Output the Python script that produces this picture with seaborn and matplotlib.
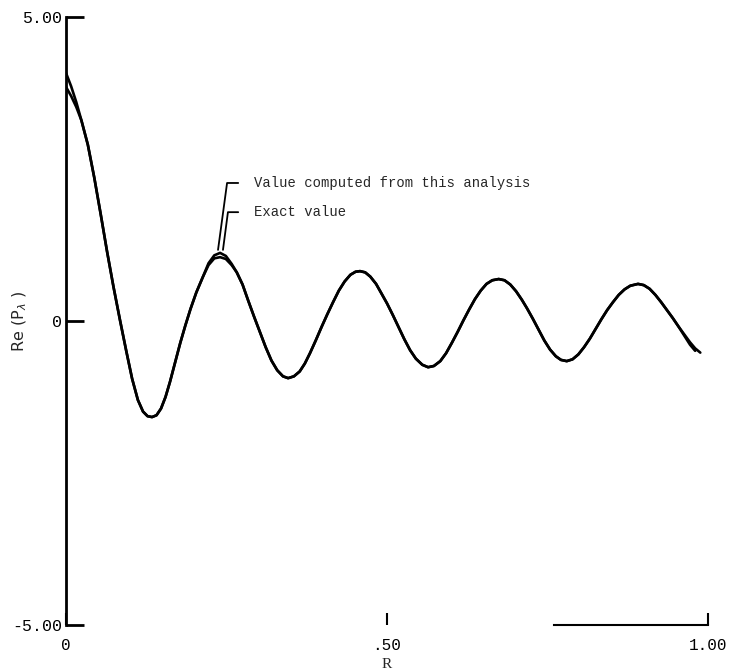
import numpy as np
import pandas as pd
import matplotlib
matplotlib.use("Agg")
import matplotlib.pyplot as plt
import seaborn as sns

# ---- data ----
r_values = [0.000,0.008,0.016,0.024,0.034,0.044,0.054,0.064,0.074,0.084,
            0.094,0.103,0.112,0.120,0.127,0.134,0.141,0.148,0.155,0.162,
            0.170,0.178,0.186,0.194,0.203,0.213,0.222,0.231,0.240,0.249,
            0.258,0.266,0.275,0.284,0.293,0.302,0.311,0.320,0.329,0.338,
            0.346,0.355,0.364,0.372,0.380,0.389,0.398,0.407,0.416,0.425,
            0.434,0.443,0.451,0.458,0.466,0.474,0.483,0.491,0.500,0.509,
            0.518,0.527,0.536,0.545,0.555,0.564,0.573,0.583,0.592,0.601,
            0.610,0.619,0.628,0.637,0.646,0.655,0.664,0.674,0.683,0.692,
            0.701,0.710,0.718,0.727,0.736,0.745,0.754,0.763,0.771,0.780,
            0.789,0.798,0.807,0.816,0.825,0.834,0.843,0.852,0.861,0.870,
            0.879,0.891,0.900,0.909,0.918,0.927,0.936,0.945,0.954,0.963,
            0.972,0.980,0.988]

exact_values = [3.85,3.70,3.52,3.30,2.90,2.36,1.76,1.14,0.56,0.02,
                -0.50,-0.95,-1.30,-1.49,-1.565,-1.58,-1.55,-1.44,-1.25,-1.00,
                -0.68,-0.36,-0.07,0.20,0.47,0.72,0.92,1.03,1.05,1.02,
                0.92,0.80,0.60,0.33,0.07,-0.18,-0.43,-0.65,-0.81,-0.91,
                -0.94,-0.91,-0.83,-0.70,-0.53,-0.32,-0.10,0.11,0.31,0.50,
                0.65,0.76,0.81,0.82,0.80,0.73,0.61,0.46,0.29,0.10,
                -0.10,-0.30,-0.48,-0.62,-0.72,-0.76,-0.74,-0.66,-0.53,-0.36,
                -0.18,0.01,0.19,0.36,0.50,0.61,0.67,0.69,0.67,0.60,
                0.49,0.35,0.21,0.04,-0.14,-0.32,-0.47,-0.58,-0.64,-0.66,
                -0.63,-0.55,-0.43,-0.29,-0.13,0.03,0.18,0.31,0.43,0.52,
                0.58,0.61,0.59,0.53,0.43,0.31,0.18,0.05,-0.09,-0.22,
                -0.35,-0.45,-0.52]

computed_values = [4.08,3.86,3.60,3.30,2.90,2.36,1.76,1.14,0.56,0.02,
                   -0.50,-0.95,-1.30,-1.49,-1.565,-1.58,-1.55,-1.44,-1.25,-1.00,
                   -0.68,-0.36,-0.07,0.20,0.47,0.72,0.95,1.08,1.12,1.07,
                   0.94,0.80,0.60,0.33,0.07,-0.18,-0.43,-0.65,-0.81,-0.91,
                   -0.94,-0.91,-0.83,-0.70,-0.53,-0.32,-0.10,0.11,0.31,0.50,
                   0.65,0.76,0.81,0.82,0.80,0.73,0.61,0.46,0.29,0.10,
                   -0.10,-0.30,-0.48,-0.62,-0.72,-0.76,-0.74,-0.66,-0.53,-0.36,
                   -0.18,0.01,0.19,0.36,0.50,0.61,0.67,0.69,0.67,0.60,
                   0.49,0.35,0.21,0.04,-0.14,-0.32,-0.47,-0.58,-0.64,-0.66,
                   -0.63,-0.55,-0.43,-0.29,-0.13,0.03,0.18,0.31,0.43,0.52,
                   0.58,0.61,0.59,0.53,0.43,0.31,0.18,0.05,-0.09,-0.24,
                   -0.39,-0.49,np.nan]

x_ticks = [0.0, 0.5, 1.0]
x_tick_labels = ["0", ".50", "1.00"]
y_ticks = [5.0, 0.0, -5.0]
y_tick_labels = ["5.00", "0", "-5.00"]

series_names = ["Value computed from this analysis", "Exact value"]
# annotation anchor points on the first peak, and text positions
anno_xy = [(0.2368, 1.17), (0.2445, 1.17)]
anno_text_xy = [(0.2928, 2.27), (0.2928, 1.79)]
anno_angles = [82.3, 82.5]

# ---- build long-form table ----
df = pd.concat([
    pd.DataFrame({"R": r_values, "val": computed_values, "series": series_names[0]}),
    pd.DataFrame({"R": r_values, "val": exact_values, "series": series_names[1]}),
], ignore_index=True)

sns.set_style("white")
plt.rcParams["font.family"] = ["Liberation Mono", "DejaVu Sans Mono", "DejaVu Sans"]

fig = plt.figure(figsize=(7.32, 6.71), dpi=100)
ax = fig.add_axes([66/732, 1 - 625/671, (708 - 66)/732, (625 - 17)/671])

sns.lineplot(data=df.dropna(), x="R", y="val", hue="series", units="series",
             estimator=None, sort=False, palette=["black", "black"],
             linewidth=1.9, legend=False, ax=ax)

ax.set_xlim(0, 1.0)
ax.set_ylim(-5, 5)

ax.set_xticks(x_ticks)
ax.set_xticklabels(x_tick_labels, fontsize=11.5)
ax.set_yticks(y_ticks)
ax.set_yticklabels(y_tick_labels, fontsize=12)

ax.tick_params(axis="y", which="major", left=True, direction="in", length=13,
               width=2, pad=3, colors="black")
ax.tick_params(axis="x", which="major", bottom=True, direction="in", length=9,
               width=1.5, pad=9, colors="black")

for s in ["top", "right"]:
    ax.spines[s].set_visible(False)
ax.spines["left"].set_linewidth(2.0)
ax.spines["left"].set_color("black")
ax.spines["bottom"].set_linewidth(1.5)
ax.spines["bottom"].set_color("black")
ax.spines["bottom"].set_bounds(0.76, 1.0)

ax.set_xlabel("R", fontsize=11, family=["Liberation Serif"], labelpad=4)
ax.set_ylabel("Re (P$_\\lambda$ )", fontsize=11.5, family=["DejaVu Sans"])
ax.yaxis.set_label_coords(-0.057, 0.5)

for name, xy, txy, ang in zip(series_names, anno_xy, anno_text_xy, anno_angles):
    ax.annotate(name, xy=xy, xytext=txy, textcoords="data",
                ha="left", va="center", fontsize=10,
                arrowprops=dict(arrowstyle="-", color="black", lw=1.3,
                                connectionstyle=f"angle,angleA=0,angleB={ang},rad=0",
                                relpos=(0, 0.5), shrinkA=9, shrinkB=0))

fig.savefig("out.png", dpi=100)
